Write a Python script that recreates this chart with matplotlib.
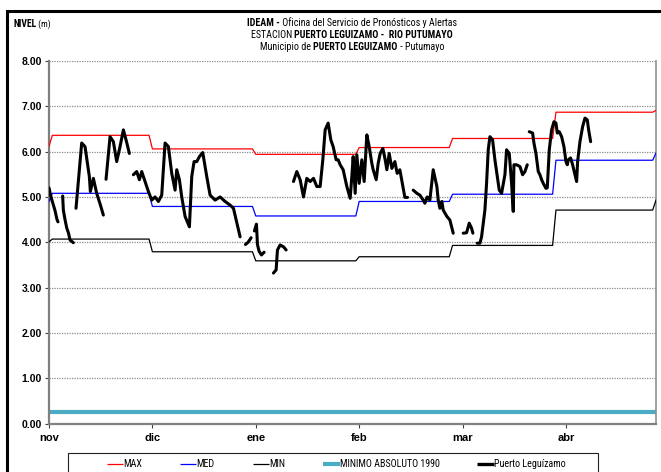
import numpy as np
import matplotlib
matplotlib.use("Agg")
import matplotlib.pyplot as plt
from matplotlib.lines import Line2D
from matplotlib.patches import Rectangle
from matplotlib import font_manager
from matplotlib.font_manager import FontProperties

_fonts = font_manager.fontManager.ttflist
_installed = {f.name for f in _fonts}
FAMILY = [f for f in ['Liberation Sans', 'DejaVu Sans'] if f in _installed]
plt.rcParams['font.family'] = FAMILY


def _wnum(w):
    if isinstance(w, (int, float)):
        return int(w)
    return {'normal': 400, 'regular': 400, 'book': 400, 'medium': 500,
            'bold': 700, 'semibold': 600, 'light': 300}.get(str(w).lower(), 400)


def _family_files(name):
    reg = bold = None
    for f in _fonts:
        if f.name != name or f.style != 'normal':
            continue
        w = _wnum(f.weight)
        if w == 400 and reg is None:
            reg = f.fname
        if w == 700 and bold is None:
            bold = f.fname
    return reg, bold


def narrow_pair():
    """Regular/bold FontProperties of the first narrow sans with both weights."""
    for name in ['Liberation Sans Narrow', 'Arial Narrow', 'Nimbus Sans Narrow',
                 'Roboto Condensed', 'Pragati Narrow', 'PT Sans Narrow',
                 'Archivo Narrow', 'Barlow Semi Condensed', 'Asap Condensed']:
        reg, bold = _family_files(name)
        if reg and bold:
            return FontProperties(fname=reg), FontProperties(fname=bold)
    return (FontProperties(family=FAMILY, weight='normal'),
            FontProperties(family=FAMILY, weight='bold'))


NARROW, NARROW_B = narrow_pair()

# ---- data -------------------------------------------------------------
# monthly reference levels (Oct-31 lead-in, Nov .. Apr, May-1 tail)
month_len = [1, 30, 31, 31, 28, 31, 30, 1]
max_month = [6.12, 6.36, 6.06, 5.94, 6.09, 6.29, 6.87, 6.91]
med_month = [4.90, 5.08, 4.79, 4.58, 4.90, 5.06, 5.81, 5.97]
min_month = [4.01, 4.07, 3.79, 3.59, 3.68, 3.93, 4.71, 4.93]
minimo_absoluto = 0.25

month_labels = ['nov', 'dic', 'ene', 'feb', 'mar', 'abr']
month_ticks = [0, 31, 62, 93, 124, 155]
y_ticks = [0, 1, 2, 3, 4, 5, 6, 7, 8]

# observed stage, Puerto Leguizamo (day index, level m); nan = no record
obs_day = [
    0, 0.6, 1.2, 1.8, 2.4, 2.7, np.nan,
    4.1, 4.3, 4.8, 5.3, 5.85, 6.3, 7.3, np.nan,
    8.1, 9.8, 10.8, 12.1, 12.4, 13.3, 14.3, 15.3, 16.3, np.nan,
    17.1, 18.3, 19.3, 20.3, 21.3, 22.3, 23.1, 24.1, np.nan,
    25.3, 26.3, 27.1, 27.8, 28.8, 29.8, 30.8, 31.8, 32.8, 33.8, 34.8, 35.8,
    36.8, 37.8, 38.3, 39.1, 39.8, 40.8, 42.1, 42.8, 43.5, 44.3, 45.1, 46.1,
    47.3, 48.3, 49.8, 51.3, 52.8, 54.3, 55.3, 57.3, np.nan,
    58.9, 59.7, 60.6, np.nan,
    61.6, 62.2, 62.5, 63.0, 63.7, 64.5, np.nan,
    67.3, 68.1, 68.5, 69.3, 70.3, 71.1, np.nan,
    73.3, 74.3, 75.3, 76.3, 77.3, 78.3, 79.3, 80.3, 81.3, 82.1, 82.8, 83.7,
    84.5, 85.2, 86.1, 86.7, 87.3, 88.2, 89.3, 90.3, 90.8, 91.2, 91.8, 92.3,
    93.0, 93.8, 94.5, 95.3, 96.0, 96.8, 97.2, 98.1, 98.7, 99.3, 100.1, 100.8,
    101.3, 102.0, 102.8, 103.7, 104.4, 105.2, 106.1, 106.7, 107.5, np.nan,
    109.2, 110.3, 111.2, 112.2, 112.7, 113.4, 114.2, 115.2, 116.3, 116.7,
    117.2, 117.8, 118.2, 119.3, 120.2, 121.2, np.nan,
    124.2, 125.2, 126.0, 126.7, 127.1, np.nan,
    128.4, 129.2, 129.7, 130.2, 130.7, 131.2, 131.7, 132.2, 133.0, 133.7,
    134.4, 135.0, 135.7, 136.7, 137.2, 138.0, 138.7, 139.2, 139.4, 140.2,
    141.2, 142.0, 142.7, 143.4, np.nan,
    144.0, 145.0, 145.4, 146.0, 146.4, 146.7, 147.2, 147.7, 148.2, 149.0,
    149.4, 150.0, 150.7, 151.4, 152.0, 152.4, 153.0, 153.7, 154.4, 155.0,
    155.4, 155.7, 156.4, 157.0, 157.5, 158.2, 158.5, 159.2, 160.0, 160.7,
    161.4, 161.8, 162.4,
]
obs_level = [
    5.20, 5.00, 4.85, 4.70, 4.50, 4.45, np.nan,
    5.02, 4.71, 4.50, 4.32, 4.20, 4.05, 3.99, np.nan,
    4.75, 6.19, 6.11, 5.45, 5.12, 5.41, 5.08, 4.85, 4.60, np.nan,
    5.39, 6.33, 6.22, 5.78, 6.11, 6.48, 6.26, 5.96, np.nan,
    5.49, 5.56, 5.38, 5.56, 5.34, 5.12, 4.93, 5.00, 4.90, 5.04, 6.19, 6.11,
    5.52, 5.15, 5.60, 5.38, 5.00, 4.57, 4.34, 5.45, 5.78, 5.78, 5.89, 5.98,
    5.45, 5.04, 4.93, 5.00, 4.90, 4.82, 4.75, 4.12, np.nan,
    3.95, 4.00, 4.10, np.nan,
    4.25, 4.40, 3.95, 3.80, 3.72, 3.78, np.nan,
    3.32, 3.39, 3.83, 3.94, 3.90, 3.83, np.nan,
    5.34, 5.56, 5.38, 5.00, 5.41, 5.34, 5.41, 5.23, 5.23, 5.82, 6.48, 6.63,
    6.26, 6.11, 5.82, 5.82, 5.71, 5.60, 5.23, 4.97, 5.45, 5.89, 5.08, 5.93,
    5.30, 5.82, 5.34, 6.37, 6.11, 5.74, 5.60, 5.38, 5.74, 5.96, 6.07, 5.82,
    5.60, 5.96, 5.63, 5.78, 5.52, 5.60, 5.23, 4.99, 4.99, np.nan,
    5.15, 5.08, 5.04, 4.93, 4.86, 5.00, 4.93, 5.60, 5.23, 4.93,
    4.75, 4.90, 4.71, 4.57, 4.49, 4.20, np.nan,
    4.20, 4.21, 4.42, 4.31, 4.20, np.nan,
    3.98, 3.98, 4.12, 4.42, 4.71, 5.30, 6.04, 6.33, 6.26, 5.82,
    5.45, 5.15, 5.08, 5.49, 6.04, 5.96, 5.30, 4.68, 5.71, 5.71,
    5.67, 5.49, 5.56, 5.71, np.nan,
    6.44, 6.41, 6.19, 5.96, 5.74, 5.56, 5.49, 5.38, 5.30, 5.19,
    5.20, 6.04, 6.48, 6.66, 6.63, 6.41, 6.44, 6.33, 6.11, 5.78,
    5.71, 5.82, 5.86, 5.71, 5.56, 5.34, 5.78, 6.22, 6.55, 6.74,
    6.70, 6.48, 6.22,
]

# ---- figure -----------------------------------------------------------
W, H = 661, 472
fig = plt.figure(figsize=(W / 100, H / 100), dpi=100)
fig.patch.set_facecolor('white')


def fx(x):
    return x / W


def fy(y):
    return 1 - y / H


ax = fig.add_axes([fx(49), fy(423.5), fx(656) - fx(49), fy(61) - fy(423.5)])

days = np.arange(sum(month_len))
max_daily = np.repeat(max_month, month_len)
med_daily = np.repeat(med_month, month_len)
min_daily = np.repeat(min_month, month_len)

ax.set_xlim(0, days[-1])
ax.set_ylim(0, 8)

for v in y_ticks[1:]:
    ax.axhline(v, color='#8c8c8c', lw=0.9, ls=(0, (1, 1)), zorder=1)

ax.plot([0, days[-1]], [minimo_absoluto, minimo_absoluto], color='#4bacc6', lw=3.0,
        solid_capstyle='butt', zorder=2)
ax.plot(days, min_daily, color='black', lw=0.9, zorder=3)
ax.plot(days, med_daily, color='#0000ff', lw=0.9, zorder=3)
ax.plot(days, max_daily, color='#ff0000', lw=0.9, zorder=3)
ax.plot(obs_day, obs_level, color='black', lw=2.2, solid_capstyle='round',
        solid_joinstyle='round', zorder=4)

for side in ('left', 'bottom'):
    ax.spines[side].set_color('#808080')
    ax.spines[side].set_linewidth(1.6)
ax.spines['right'].set_color('#909090')
ax.spines['right'].set_linewidth(1.2)
ax.spines['top'].set_visible(False)

ax.set_yticks(y_ticks)
ax.set_yticklabels([f'{v:.2f}' for v in y_ticks], fontweight='bold', fontsize=7.5)
ax.set_xticks(month_ticks)
ax.set_xticklabels(month_labels, fontweight='bold', fontsize=8)
ax.tick_params(axis='both', direction='out', length=3, width=0.8, color='#404040', pad=2)
ax.tick_params(axis='x', pad=4)

# outer chart frame
fig.add_artist(Rectangle((fx(7), fy(520)), fx(720) - fx(7), fy(11) - fy(520),
                         transform=fig.transFigure, fill=False, ec='black', lw=2.2,
                         clip_on=False))

# ---- titles ------------------------------------------------------------
renderer = fig.canvas.get_renderer()


def _fp(bold, size):
    fp = (NARROW_B if bold else NARROW).copy()
    fp.set_size(size)
    return fp


def line_width(parts, size):
    total = 0
    for s, bold in parts:
        t = fig.text(0, 0, s, fontproperties=_fp(bold, size))
        total += t.get_window_extent(renderer).width
        t.remove()
    return total


def runs(parts, xc, y, size):
    """Draw a line made of (text, bold?) runs centred at xc (pixels)."""
    items = []
    total = 0
    for s, bold in parts:
        t = fig.text(0, 0, s, fontproperties=_fp(bold, size), va='center', ha='left')
        wpx = t.get_window_extent(renderer).width
        items.append((t, wpx))
        total += wpx
    x = xc - total / 2
    for t, wpx in items:
        t.set_position((fx(x), fy(y)))
        x += wpx


def runs_left(parts, x, y):
    for s, bold, sz in parts:
        t = fig.text(fx(x), fy(y), s, fontproperties=_fp(bold, sz), va='center', ha='left')
        x += t.get_window_extent(renderer).width


title1 = [('IDEAM -', True), (' Oficina del Servicio de Pronósticos y Alertas', False)]
title2 = [('ESTACION ', False), ('PUERTO LEGUIZAMO -  RIO PUTUMAYO', True)]
title3 = [('Municipio de ', False), ('PUERTO LEGUIZAMO', True), (' - Putumayo', False)]

# size the title so its first line spans about 210 px
tsize = float(np.clip(8.5 * 210 / line_width(title1, 8.5), 7.0, 9.0))
TC = 352
runs(title1, TC, 23, tsize)
runs(title2, TC, 35, tsize)
runs(title3, TC, 47, tsize)
runs_left([('NIVEL', True, tsize - 0.3), (' (m)', False, tsize - 0.8)], 13, 24)

# ---- legend ------------------------------------------------------------
fig.add_artist(Rectangle((fx(68), fy(520)), fx(598) - fx(68), fy(453) - fy(520),
                         transform=fig.transFigure, fill=False, ec='#202020', lw=0.8,
                         clip_on=False))
legend_items = [
    ('MAX', '#ff0000', 0.9, 107),
    ('MED', '#0000ff', 0.9, 180),
    ('MIN', 'black', 0.9, 253),
    ('MINIMO ABSOLUTO 1990', '#4bacc6', 3.0, 323),
    ('Puerto Leguízamo', 'black', 2.4, 477),
]
lsize = float(np.clip(7.5 * 100 / line_width([('MINIMO ABSOLUTO 1990', False)], 7.5),
                      6.5, 8.0))
ly = 464
for label, col, lw, x0 in legend_items:
    seg = 16 if lw < 2 else 17
    fig.add_artist(Line2D([fx(x0), fx(x0 + seg)], [fy(ly), fy(ly)], color=col, lw=lw,
                          transform=fig.transFigure, solid_capstyle='butt'))
    fig.text(fx(x0 + seg + 0.5), fy(ly), label, fontproperties=_fp(False, lsize),
             va='center', ha='left')

fig.savefig('out.png', dpi=100)
